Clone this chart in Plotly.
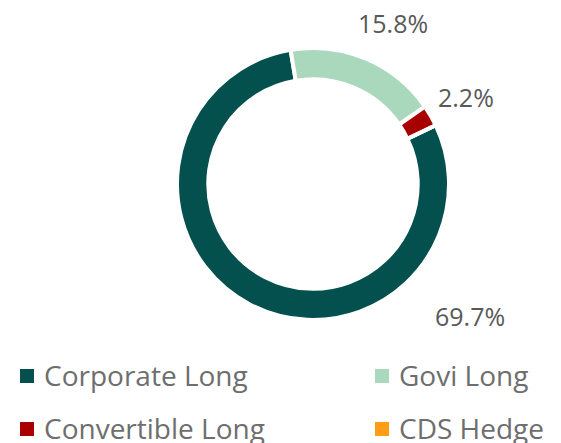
import plotly.graph_objects as go

# ---- data ----
categories = ["Corporate Long", "Govi Long", "Convertible Long", "CDS Hedge"]
values = [69.7, 15.8, 2.2, 0.0]
colors = ["#03504E", "#AAD8BC", "#A80000", "#FF9E16"]

W, H = 561, 443
FONT = "Open Sans"

def px_x(x):
    return x / W

def px_y(y):
    return 1 - y / H

fig = go.Figure()
fig.add_trace(go.Pie(
    labels=categories,
    values=values,
    sort=False,
    direction="clockwise",
    rotation=64.4,
    hole=0.77,
    marker=dict(colors=colors, line=dict(color="white", width=4)),
    textinfo="none",
    hoverinfo="label+value",
    showlegend=False,
    domain=dict(x=[px_x(177), px_x(449)], y=[px_y(320), px_y(48)]),
))

# outside value labels (positions are styling)
label_pos = {"Corporate Long": (470, 316), "Govi Long": (393, 23), "Convertible Long": (466, 97)}
annotations = []
for cat, v in zip(categories, values):
    if v <= 0 or cat not in label_pos:
        continue
    x, y = label_pos[cat]
    annotations.append(dict(
        x=px_x(x), y=px_y(y), xref="paper", yref="paper",
        text=f"{v}%", showarrow=False, xanchor="center", yanchor="middle",
        font=dict(family=FONT, size=25, color="#595959"),
    ))

# manual legend
col_x = [20, 375]
row_y = [376, 429]
sq = 14
shapes = []
for i, (cat, c) in enumerate(zip(categories, colors)):
    cx = col_x[i % 2]
    cy = row_y[i // 2]
    shapes.append(dict(
        type="rect", xref="paper", yref="paper",
        x0=px_x(cx), x1=px_x(cx + sq), y0=px_y(cy + sq / 2), y1=px_y(cy - sq / 2),
        fillcolor=c, line=dict(width=0),
    ))
    annotations.append(dict(
        x=px_x(cx + 22), y=px_y(cy - 1), xref="paper", yref="paper",
        text=cat, showarrow=False, xanchor="left", yanchor="middle",
        font=dict(family=FONT, size=28, color="#6E6E6E"),
    ))

fig.update_layout(
    width=W, height=H,
    margin=dict(l=0, r=0, t=0, b=0),
    paper_bgcolor="white", plot_bgcolor="white",
    annotations=annotations, shapes=shapes,
    showlegend=False,
)

fig.write_html("out.html", config={"displayModeBar": False},
               post_script="document.body.style.margin='0';")
